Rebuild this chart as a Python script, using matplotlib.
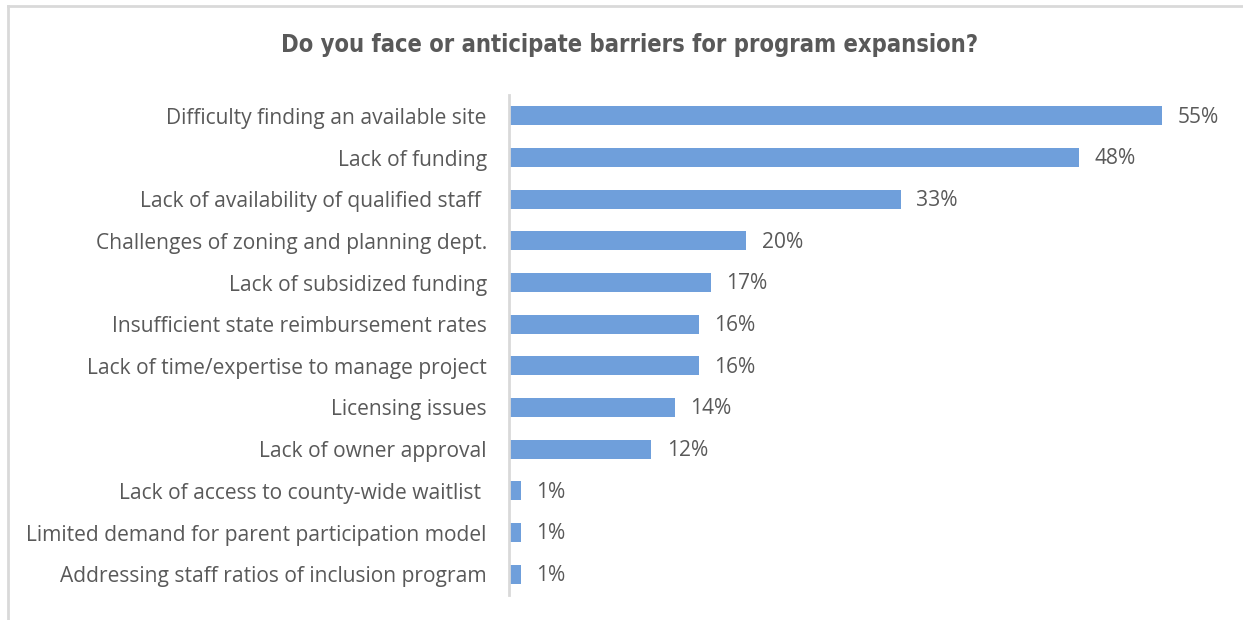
import matplotlib
matplotlib.use("Agg")
import matplotlib.pyplot as plt
from matplotlib.lines import Line2D

categories = [
    "Difficulty finding an available site",
    "Lack of funding",
    "Lack of availability of qualified staff ",
    "Challenges of zoning and planning dept.",
    "Lack of subsidized funding",
    "Insufficient state reimbursement rates",
    "Lack of time/expertise to manage project",
    "Licensing issues",
    "Lack of owner approval",
    "Lack of access to county-wide waitlist ",
    "Limited demand for parent participation model",
    "Addressing staff ratios of inclusion program",
]
values = [55, 48, 33, 20, 17, 16, 16, 14, 12, 1, 1, 1]
value_labels = ["55%", "48%", "33%", "20%", "17%", "16%", "16%", "14%", "12%", "1%", "1%", "1%"]
title = "Do you face or anticipate barriers for program expansion?"

W, H = 1243, 620
fig = plt.figure(figsize=(W / 100, H / 100), dpi=100)
fig.patch.set_facecolor("white")

left_px, right_px, top_px, bottom_px = 509, 1230, 95, 595
ax = fig.add_axes([left_px / W, 1 - bottom_px / H, (right_px - left_px) / W, (bottom_px - top_px) / H])

n = len(categories)
ypos = list(range(n))
bar_color = "#6F9FDB"
text_color = "#595959"
font = "Open Sans"

ax.barh(ypos, values, height=0.46, color=bar_color, zorder=2)
ax.set_ylim(n - 0.5, -0.5)
ax.set_xlim(0, (right_px - left_px) / (653 / 55))

ax.set_yticks(ypos)
ax.set_yticklabels(categories, fontsize=15.1, color=text_color, family=font)
ax.tick_params(axis="y", length=0, pad=16)
ax.set_xticks([])
for s in ["top", "right", "bottom"]:
    ax.spines[s].set_visible(False)
ax.spines["left"].set_color("#D9D9D9")
ax.spines["left"].set_linewidth(2)

for y, v, lab in zip(ypos, values, value_labels):
    ax.annotate(lab, (v, y), xytext=(11, -1), textcoords="offset points",
                va="center", ha="left", fontsize=15.1, color=text_color, family=font)

fig.text(630 / W, 1 - 45 / H, title, ha="center", va="center", fontsize=17,
         fontweight="bold", fontstretch="condensed", family="DejaVu Sans", color="#595959")

# chart border
fig.add_artist(Line2D([8 / W, 1], [1 - 6 / H, 1 - 6 / H], color="#D9D9D9", lw=2, transform=fig.transFigure))
fig.add_artist(Line2D([8 / W, 8 / W], [0, 1 - 6 / H], color="#D9D9D9", lw=2, transform=fig.transFigure))

fig.savefig("out.png", dpi=100, facecolor="white")
